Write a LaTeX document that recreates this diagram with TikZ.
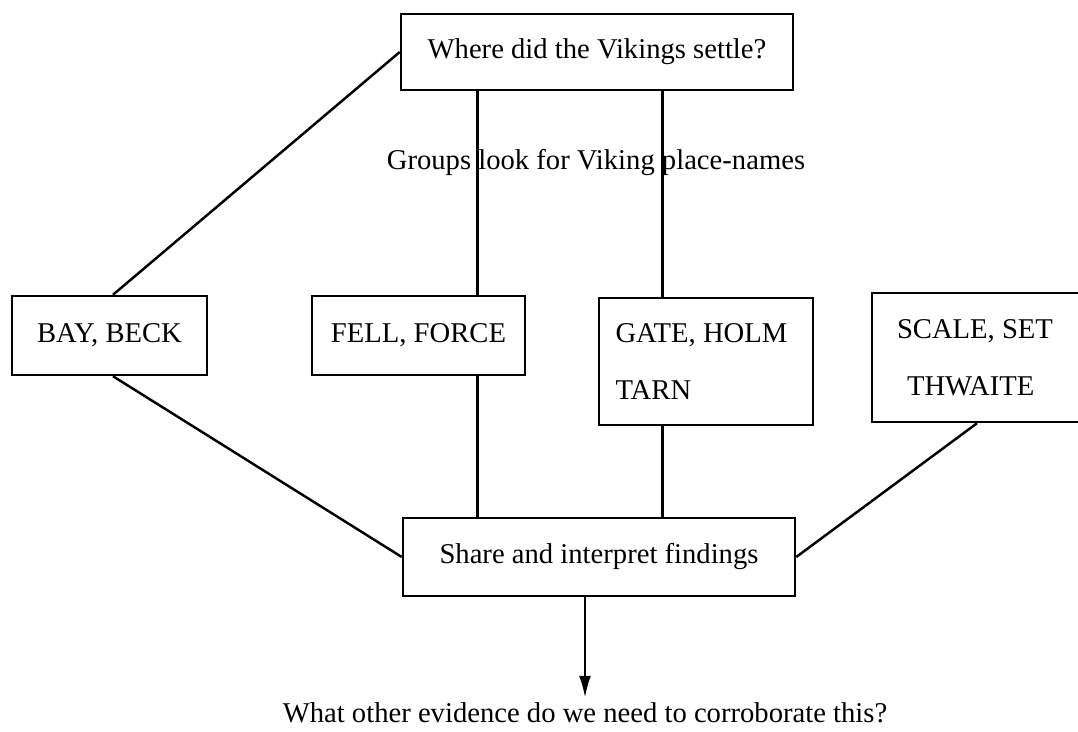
\documentclass[tikz,border=0pt]{standalone}
\usepackage{fontspec}
\setmainfont{Liberation Serif}
\usetikzlibrary{arrows.meta, positioning}

\begin{document}
\begin{tikzpicture}[box/.style={draw, line width=1.4pt, inner sep=0pt},
                    tallbox/.style={draw, line width=1.4pt, align=flush left},
                    every node/.style={font=\fontsize{16.3}{32.4}\selectfont}]
            \useasboundingbox (0,0) rectangle (21.56,-14.64);
            \clip (0,0) rectangle (21.56,-14.64);
            % \tikzstyle{every node}=[font=\large]
            \node[box, minimum width=7.84cm, minimum height=1.52cm] (top) at (11.94,-1.04) {Where did the Vikings settle?};
            \node[box, minimum width=3.9cm, minimum height=1.58cm] (bay) at (2.19,-6.71) {BAY, BECK};
            \node[box, minimum width=4.26cm, minimum height=1.58cm] (fell) at (8.37,-6.71) {FELL, FORCE};
            \node[tallbox, text width=3.62cm, inner xsep=0.33cm, minimum height=2.54cm] (gate) at (14.12,-7.23) {GATE, HOLM\\TARN};
            \node[tallbox, text width=3.2cm, inner xsep=0.5cm, minimum height=2.58cm] (scale) at (19.54,-7.15) {SCALE, SET\\\hspace*{0.2cm}THWAITE};
            \node[box, minimum width=7.84cm, minimum height=1.56cm] (share) at (11.98,-11.14) {Share and interpret findings};
            \node[anchor=base, inner sep=0pt] (groups) at (11.92,-3.4) {Groups look for Viking place-names};
            \node[anchor=base, inner sep=0pt] (q) at (11.7,-14.44) {What other evidence do we need to corroborate this?};
            \coordinate (lx) at (9.55,0);
            \coordinate (rx) at (13.25,0);

            \path[line width=1.4pt]  (top.west) edge ([xshift=0.07cm]bay.north);
            \path[line width=1.4pt]  (top.south -| lx) edge (fell.north -| lx);
            \path[line width=1.4pt]  (top.south -| rx) edge (gate.north -| rx);
            \path[line width=1.4pt]  ([xshift=0.07cm]bay.south) edge (share.west);
            \path[line width=1.4pt]  (fell.south -| lx) edge (share.north -| lx);
            \path[line width=1.4pt]  (gate.south -| rx) edge (share.north -| rx);
            \path[line width=1.4pt]  (scale.south) edge (share.east);
            \path[-{Latex[length=0.44cm, width=0.24cm]}]  (share.south -| q) edge [line width=1.4pt, shorten >=0.08cm] (q.north);
        \end{tikzpicture}
\end{document}
